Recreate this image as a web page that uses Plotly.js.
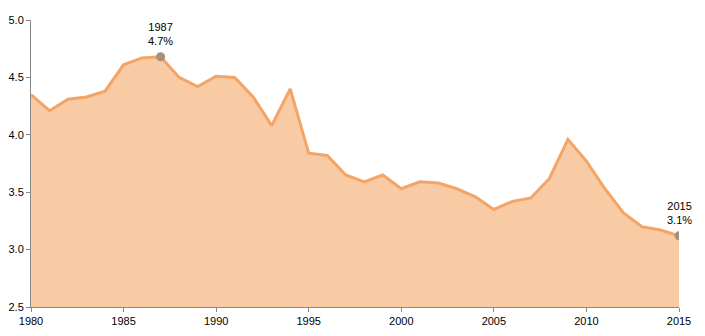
<!DOCTYPE html>
<html><head><meta charset="utf-8">
<script src="https://cdn.plot.ly/plotly-3.0.1.min.js"></script>
<style>html,body{margin:0;padding:0;background:#fff}#chart{width:705px;height:336px}</style>
</head><body><div id="chart"></div>
<script>
const years = [1980,1981,1982,1983,1984,1985,1986,1987,1988,1989,1990,1991,1992,1993,1994,1995,1996,1997,1998,1999,2000,2001,2002,2003,2004,2005,2006,2007,2008,2009,2010,2011,2012,2013,2014,2015];
const values = [4.35,4.21,4.31,4.33,4.38,4.61,4.67,4.68,4.50,4.42,4.51,4.50,4.33,4.08,4.40,3.84,3.82,3.65,3.59,3.65,3.53,3.59,3.58,3.53,3.46,3.35,3.42,3.45,3.62,3.96,3.77,3.53,3.32,3.20,3.17,3.12];
const highlightYears = [1987, 2015];
const highlightLabels = ["4.7%", "3.1%"];
const yTicks = [2.5,3.0,3.5,4.0,4.5,5.0];
const xTicks = [1980,1985,1990,1995,2000,2005,2010,2015];

const hx = highlightYears;
const hy = highlightYears.map(y => values[years.indexOf(y)]);

const traces = [
  {x: years, y: values, type: 'scatter', mode: 'lines', fill: 'tozeroy',
   fillcolor: '#F9CBA4', line: {color: '#F4A465', width: 3}, hoverinfo: 'x+y'},
  {x: hx, y: hy, type: 'scatter', mode: 'markers',
   marker: {color: '#A39276', size: 9}, hoverinfo: 'x+y'}
];

const annotations = hx.map((x, i) => ({
  x: x, y: hy[i], xref: 'x', yref: 'y', text: x + '<br>' + highlightLabels[i],
  showarrow: false, yanchor: 'bottom', xanchor: 'center', yshift: 8,
  font: {family: 'Liberation Sans, Arial, sans-serif', size: 11, color: '#000'}
}));

const layout = {
  width: 705, height: 336,
  margin: {l: 31, r: 26, t: 20, b: 29},
  paper_bgcolor: '#fff', plot_bgcolor: '#fff',
  showlegend: false,
  font: {family: 'Liberation Sans, Arial, sans-serif', size: 11, color: '#000'},
  xaxis: {range: [1980, 2015], tickvals: xTicks, ticktext: xTicks.map(String),
    showgrid: false, zeroline: false, showline: true, linecolor: '#888', linewidth: 1,
    ticks: 'outside', ticklen: 4, tickcolor: '#888', tickfont: {size: 11}},
  yaxis: {range: [2.5, 5.0], tickvals: yTicks, ticktext: yTicks.map(v => v.toFixed(1)),
    showgrid: false, zeroline: false, showline: true, linecolor: '#888', linewidth: 1,
    ticks: 'outside', ticklen: 4, tickcolor: '#888', tickfont: {size: 11}},
  annotations: annotations
};
Plotly.newPlot('chart', traces, layout, {displayModeBar: false, staticPlot: true});
</script></body></html>
